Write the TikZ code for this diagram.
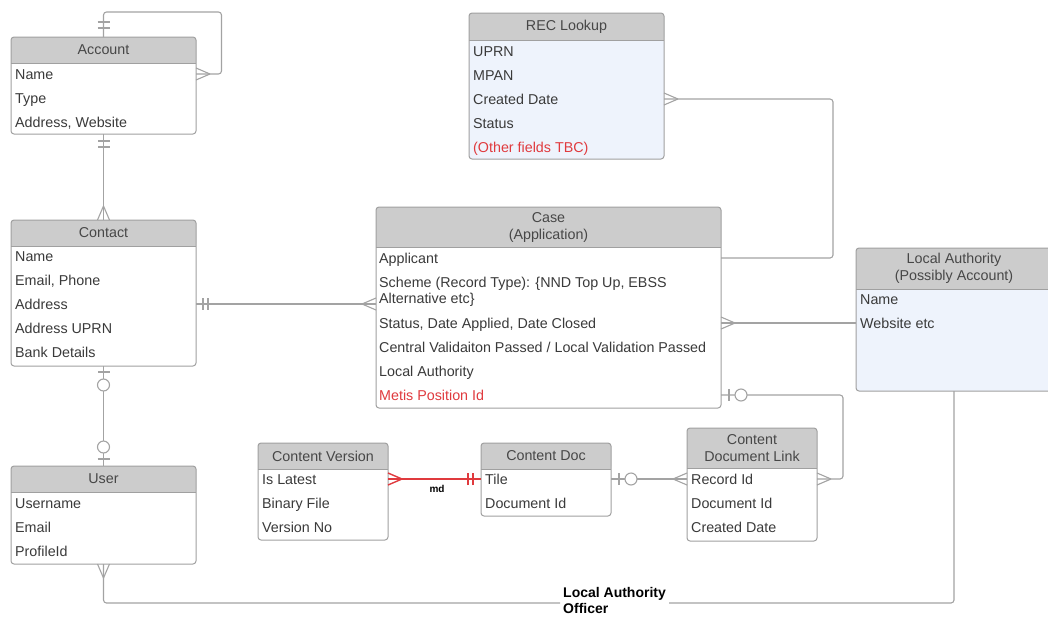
\documentclass[tikz,border=0pt]{standalone}
\usepackage{fontspec}
\setmainfont{Liberation Sans}

\definecolor{headfill}{HTML}{CCCCCC}
\definecolor{boxline}{HTML}{A0A0A0}
\definecolor{connline}{HTML}{A3A3A3}
\definecolor{fieldtext}{HTML}{3A3A3A}
\definecolor{titletext}{HTML}{474747}
\definecolor{paleblue}{HTML}{EEF3FC}
\definecolor{relred}{HTML}{E03A3E}

% entity box: name, left, top, width, height, header height, body fill, title
\newcommand{\erentity}[8]{%
  \node[ebox, fill=#7, minimum width=#4pt, minimum height=#5pt,
        anchor=north west, rounded corners=3pt] (#1) at (#2,#3) {};
  \fill[headfill, rounded corners=3pt] (#2,#3) rectangle ++(#4,#6);
  \fill[headfill] (#2,#3+#6-5) rectangle ++(#4,5);
  \draw[boxline, line width=0.9pt] (#2,#3+#6) -- ++(#4,0);
  \draw[frame] (#2,#3) rectangle ++(#4,#5);
  \node[ttl] at (#2+#4/2,#3+#6/2) {#8};
}

\begin{document}
\begin{tikzpicture}[x=1pt,y=-1pt,line join=round,
  ebox/.style={inner sep=0pt, outer sep=0pt},
  frame/.style={draw=boxline, line width=1pt, rounded corners=3pt},
  ttl/.style={font=\fontsize{14.3}{17}\selectfont, text=titletext, align=center, inner sep=0pt},
  fldbase/.style={font=\fontsize{14.3}{16}\selectfont, text=fieldtext, anchor=west, inner sep=0pt},
  fld/.style={fldbase, text height=10.3pt, text depth=0pt},
  fldwrap/.style={fldbase, align=left},
  redfld/.style={fld, text=relred},
  conn/.style={draw=connline, line width=1.1pt},
  redconn/.style={draw=relred, line width=1.4pt},
  mk/.style={color=connline, line width=1.1pt},
  redmk/.style={color=relred, line width=1.4pt},
  pics/crow/.style={code={\draw (14,0) -- (0,6) (14,0) -- (0,-6);}},
  pics/onebar/.style={code={\draw (#1,-6) -- (#1,6);}},
  pics/ring/.style={code={\draw[fill=white] (#1,0) circle[radius=6pt];}},
]
\useasboundingbox (0,0) rectangle (1048,616);
\clip (0,0) rectangle (1048,616);
\fill[white] (0,0) rectangle (1048,616);

% ---------- entities ----------
\erentity{acc}{11}{37}{185}{97}{26}{white}{Account}
\node[fld] (acc-1) at (15,74) {Name};
\node[fld] (acc-2) at (15,98) {Type};
\node[fld] (acc-3) at (15,122) {Address, Website};

\erentity{con}{11}{220}{185}{146}{26}{white}{Contact}
\node[fld] (con-1) at (15,256) {Name};
\node[fld] (con-2) at (15,280) {Email, Phone};
\node[fld] (con-3) at (15,304) {Address};
\node[fld] (con-4) at (15,328) {Address UPRN};
\node[fld] (con-5) at (15,352) {Bank Details};

\erentity{usr}{11}{466}{185}{98}{26}{white}{User}
\node[fld] (usr-1) at (15,503) {Username};
\node[fld] (usr-2) at (15,527) {Email};
\node[fld] (usr-3) at (15,551) {ProfileId};

\erentity{rec}{469}{13}{195}{146}{27}{paleblue}{REC Lookup}
\node[fld] (rec-1) at (473,51) {UPRN};
\node[fld] (rec-2) at (473,75) {MPAN};
\node[fld] (rec-3) at (473,99) {Created Date};
\node[fld] (rec-4) at (473,123) {Status};
\node[redfld] (rec-5) at (473,147) {(Other fields TBC)};

\erentity{cas}{376}{207}{345}{201}{40}{white}{Case\\(Application)}
\node[fld] (cas-1) at (379,258) {Applicant};
\node[fldwrap] (cas-2) at (379,292) {Scheme (Record Type): \{NND Top Up, EBSS\\Alternative etc\}};
\node[fld] (cas-3) at (379,323) {Status, Date Applied, Date Closed};
\node[fld] (cas-4) at (379,347) {Central Validaiton Passed / Local Validation Passed};
\node[fld] (cas-5) at (379,371) {Local Authority};
\node[redfld] (cas-6) at (379,395) {Metis Position Id};

\erentity{la}{856}{248}{196}{143}{41}{paleblue}{Local Authority\\(Possibly Account)}
\node[fld] (la-1) at (860,299) {Name};
\node[fld] (la-2) at (860,323) {Website etc};

\erentity{cv}{258}{443}{130}{97}{26}{white}{Content Version}
\node[fld] (cv-1) at (262,479) {Is Latest};
\node[fld] (cv-2) at (262,503) {Binary File};
\node[fld] (cv-3) at (262,527) {Version No};

\erentity{cd}{481}{443}{130}{73}{26}{white}{Content Doc}
\node[fld] (cd-1) at (485,479) {Tile};
\node[fld] (cd-2) at (485,503) {Document Id};

\erentity{cdl}{687}{428}{130}{113}{40}{white}{Content\\Document Link}
\node[fld] (cdl-1) at (691,479) {Record Id};
\node[fld] (cdl-2) at (691,503) {Document Id};
\node[fld] (cdl-3) at (691,527) {Created Date};

% ---------- relationship lines ----------
\draw[conn, rounded corners=3pt] (acc.north) -- ++(0,-25) -- ++(118,0) |- (acc.east |- acc-1);
\draw[conn] (acc.south) -- (con.north);
\draw[conn] (con.south) -- (usr.north);
\draw[conn] (con.east |- con-3) -- (cas.west |- con-3);
\draw[conn, rounded corners=3pt] (rec.east |- rec-3) -- ++(169,0) |- (cas.east |- cas-1);
\draw[conn] (cas.east |- cas-3) -- (la.west |- cas-3);
\draw[conn, rounded corners=3pt] (cas.east |- cas-6) -- ++(122,0) |- (cdl.east |- cdl-1);
\draw[redconn] (cv.east |- cv-1) -- (cd.west |- cd-1);
\draw[conn] (cd.east |- cd-1) -- (cdl.west |- cdl-1);

\node[font=\bfseries\fontsize{14}{16}\selectfont, text=black, align=left,
      inner xsep=3pt, inner ysep=0pt, anchor=west] (lao) at (560,600) {Local Authority\\Officer};
\draw[conn, rounded corners=3pt] (usr.south) |- ([yshift=-3pt]lao.west);
\draw[conn, rounded corners=3pt] ([yshift=-3pt]lao.east) -| (la.south);

\node[font=\bfseries\fontsize{10}{12}\selectfont, text=black] (mdlabel) at (437,489) {md};

% ---------- cardinality markers ----------
\pic[mk, rotate=90] at (acc.north) {onebar=9};
\pic[mk, rotate=90] at (acc.north) {onebar=15};
\pic[mk, rotate=0] at (acc.east |- acc-1) {crow};
\pic[mk, rotate=-90] at (acc.south) {onebar=7};
\pic[mk, rotate=-90] at (acc.south) {onebar=13};
\pic[mk, rotate=90] at (con.north) {crow};

\pic[mk, rotate=-90] at (con.south) {onebar=6};
\pic[mk, rotate=-90] at (con.south) {ring=19};
\pic[mk, rotate=90] at (usr.north) {onebar=7};
\pic[mk, rotate=90] at (usr.north) {ring=19};
\pic[mk, rotate=-90] at (usr.south) {crow};

\pic[mk, rotate=0] at (con.east |- con-3) {onebar=7};
\pic[mk, rotate=0] at (con.east |- con-3) {onebar=12};
\pic[mk, rotate=180] at (cas.west |- con-3) {crow};

\pic[mk, rotate=0] at (rec.east |- rec-3) {crow};
\pic[mk, rotate=0] at (cas.east |- cas-3) {crow};

\pic[mk, rotate=0] at (cas.east |- cas-6) {onebar=8};
\pic[mk, rotate=0] at (cas.east |- cas-6) {ring=20};
\pic[mk, rotate=0] at (cdl.east |- cdl-1) {crow};

\pic[redmk, rotate=0] at (cv.east |- cv-1) {crow};
\pic[redmk, rotate=180] at (cd.west |- cd-1) {onebar=8};
\pic[redmk, rotate=180] at (cd.west |- cd-1) {onebar=13};

\pic[mk, rotate=0] at (cd.east |- cd-1) {onebar=8};
\pic[mk, rotate=0] at (cd.east |- cd-1) {ring=20};
\pic[mk, rotate=180] at (cdl.west |- cdl-1) {crow};
\end{tikzpicture}
\end{document}
